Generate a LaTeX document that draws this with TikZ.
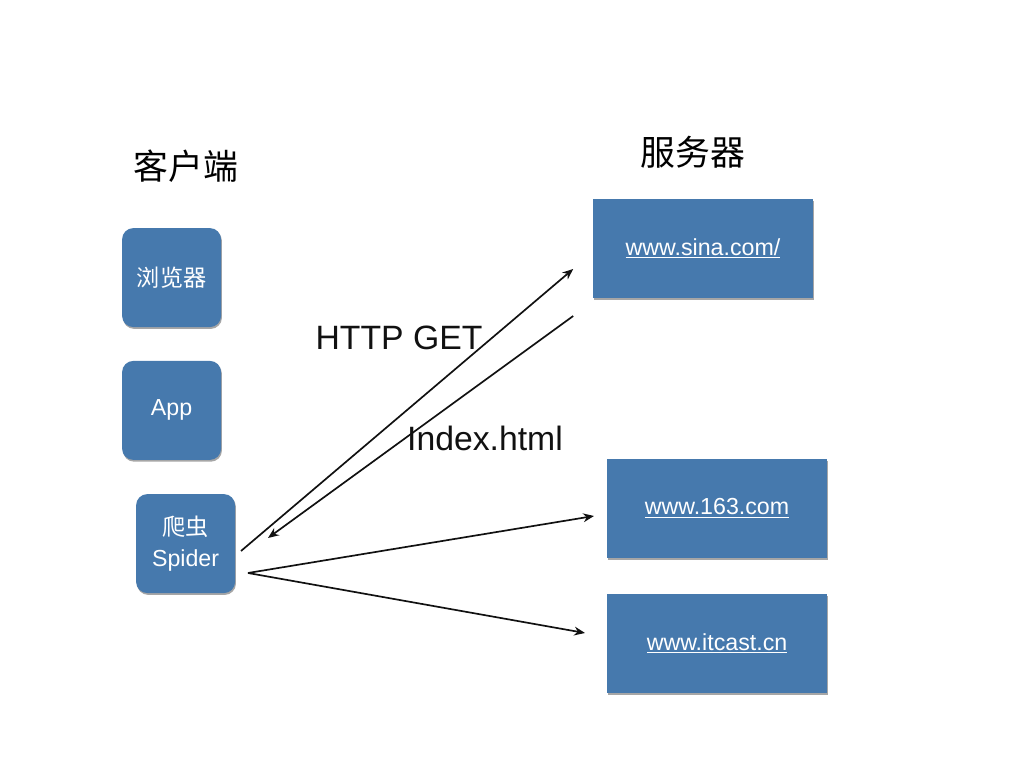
\documentclass[tikz,border=0pt]{standalone}
\usepackage{fontspec}
\setmainfont{Liberation Sans}
\newfontfamily\cjk{Noto Sans CJK SC}
\usetikzlibrary{arrows.meta,shadows}
\definecolor{boxfill}{HTML}{4679AD}
\definecolor{ink}{HTML}{111111}

\begin{document}
\begin{tikzpicture}[
  >=Stealth,
  box/.style={fill=boxfill, draw=none, text=white, align=center, inner sep=0pt,
    drop shadow={shadow xshift=0.6pt, shadow yshift=-1.3pt, opacity=0.35, fill=black}},
  client/.style={box, rounded corners=8pt, minimum width=2.475cm, minimum height=2.475cm,
    font=\fontsize{16.5}{22.5}\selectfont},
  server/.style={box, minimum width=5.5cm, minimum height=2.475cm,
    font=\fontsize{16.5}{20}\selectfont},
  title/.style={font=\cjk\fontsize{24.8}{30}\selectfont, inner sep=0pt},
  lbl/.style={font=\fontsize{24}{29}\selectfont, text=ink, inner sep=0pt},
  flow/.style={-{Stealth[length=2.7mm, width=2.2mm]}, line width=1.2pt, draw=ink},
]
\useasboundingbox (0,0) rectangle (25.6,19.2);

% ===== titles =====
\node[title] (ctitle) at (4.65,15.05) {客户端};
\node[title] (stitle) at (17.33,15.4) {服务器};

% ===== clients =====
\node[client] (browser) at (4.29,12.26) {\raisebox{-2pt}{\cjk 浏览器}};
\node[client] (app)     at (4.29,8.94)  {\raisebox{-3pt}{App}};
\node[client] (spider)  at (4.64,5.61)  {\raisebox{-3pt}{\cjk 爬虫}\\\raisebox{-3pt}{Spider}};

% ===== servers =====
\node[server] (sina)   at (17.575,12.99) {\raisebox{-2pt}{\underline{www.sina.com/}}};
\node[server] (n163)   at (17.925,6.49)  {\raisebox{-2pt}{\underline{www.163.com}}};
\node[server] (itcast) at (17.925,3.11)  {\raisebox{-2pt}{\underline{www.itcast.cn}}};

% ===== arrow ends =====
\coordinate (getS)   at (6.025,5.425);
\coordinate (getE)   at (14.33,12.475);
\coordinate (idxS)   at (14.33,11.3);
\coordinate (idxE)   at (6.7,5.75);
\coordinate (fanS)   at (6.2,4.875);
\coordinate (n163E)  at (14.85,6.3);
\coordinate (itcE)   at (14.625,3.375);

% ===== request / response =====
\draw[flow] (getS) -- (getE);
\draw[flow] (idxS) -- (idxE);
\draw[flow] (fanS) -- (n163E);
\draw[flow] (fanS) -- (itcE);

\node[lbl] (get) at (9.975,10.76) {HTTP GET};
\node[lbl] (idx) at (12.125,8.24) {Index.html};

\end{tikzpicture}
\end{document}
